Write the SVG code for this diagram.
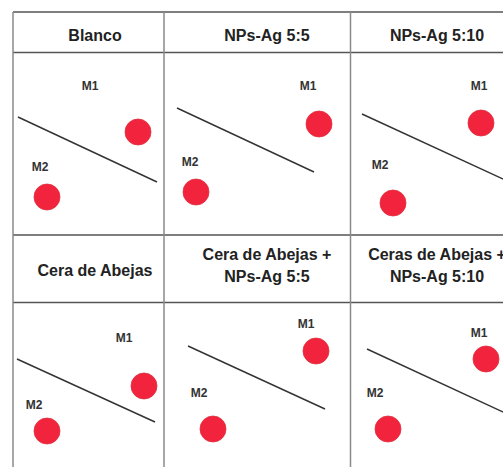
<svg xmlns="http://www.w3.org/2000/svg" width="503" height="467" viewBox="0 0 503 467">
<style>
.h{stroke:#555;stroke-width:1.5;fill:none}
.v{stroke:#8a8a8a;stroke-width:1.5;fill:none}
.t{font-family:"Liberation Sans",Arial,sans-serif;font-weight:bold;font-size:16px;fill:#222;text-anchor:middle}
.m{font-family:"Liberation Sans",Arial,sans-serif;font-weight:bold;font-size:12px;fill:#333;text-anchor:middle}
.d{stroke:#333;stroke-width:1.4;fill:none}
.c{fill:#f2233d;stroke:#e0303e;stroke-width:0.8}
</style>
<rect width="503" height="467" fill="#fff"/>
<g id="grid">
<line class="h" x1="13" y1="12" x2="503" y2="12"/>
<line class="h" x1="13" y1="52.5" x2="503" y2="52.5"/>
<line class="h" x1="13" y1="235" x2="503" y2="235"/>
<line class="h" x1="13" y1="302.5" x2="503" y2="302.5"/>
<line class="v" x1="13" y1="12" x2="13" y2="467"/>
<line class="v" x1="164" y1="12" x2="164" y2="467"/>
<line class="v" x1="350.5" y1="12" x2="350.5" y2="467"/>
</g>
<g id="headers">
<text class="t" x="95" y="41">Blanco</text>
<text class="t" x="267" y="41">NPs-Ag 5:5</text>
<text class="t" x="437" y="41">NPs-Ag 5:10</text>
<text class="t" x="95" y="276">Cera de Abejas</text>
<text class="t" x="267" y="260">Cera de Abejas +</text>
<text class="t" x="267" y="282">NPs-Ag 5:5</text>
<text class="t" x="437" y="260">Ceras de Abejas +</text>
<text class="t" x="437" y="282">NPs-Ag 5:10</text>
</g>
<g id="connectors">
<line class="d" x1="18" y1="117" x2="157" y2="182"/>
<line class="d" x1="177" y1="108" x2="314" y2="172"/>
<line class="d" x1="362" y1="114" x2="505" y2="180"/>
<line class="d" x1="17" y1="359" x2="155" y2="422"/>
<line class="d" x1="188" y1="346" x2="325" y2="409"/>
<line class="d" x1="367" y1="349" x2="505" y2="413"/>
</g>
<g id="cell1">
<text class="m" x="90" y="90">M1</text><circle class="c" cx="138" cy="132" r="13"/>
<text class="m" x="40" y="171">M2</text><circle class="c" cx="47" cy="197" r="13"/>
</g>
<g id="cell2">
<text class="m" x="308" y="90">M1</text><circle class="c" cx="319" cy="124" r="13"/>
<text class="m" x="190" y="166">M2</text><circle class="c" cx="196" cy="192" r="13"/>
</g>
<g id="cell3">
<text class="m" x="479" y="90">M1</text><circle class="c" cx="481" cy="123" r="13"/>
<text class="m" x="380" y="169">M2</text><circle class="c" cx="393" cy="203" r="13"/>
</g>
<g id="cell4">
<text class="m" x="124" y="342">M1</text><circle class="c" cx="144" cy="386" r="13"/>
<text class="m" x="34" y="409">M2</text><circle class="c" cx="47" cy="431" r="13"/>
</g>
<g id="cell5">
<text class="m" x="306" y="328">M1</text><circle class="c" cx="316" cy="351" r="13"/>
<text class="m" x="199" y="397">M2</text><circle class="c" cx="213" cy="429" r="13"/>
</g>
<g id="cell6">
<text class="m" x="479" y="337">M1</text><circle class="c" cx="486" cy="359" r="13"/>
<text class="m" x="375" y="397">M2</text><circle class="c" cx="388" cy="429" r="13"/>
</g>
</svg>
